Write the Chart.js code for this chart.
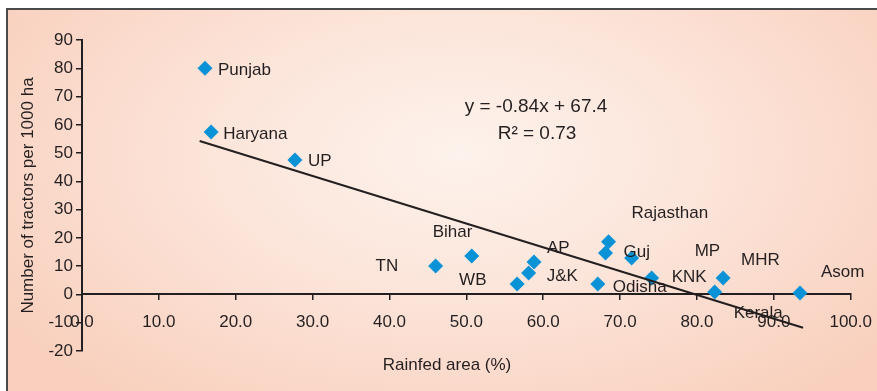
<!DOCTYPE html>
<html>
<head>
<meta charset="utf-8">
<script src="https://cdn.jsdelivr.net/npm/chart.js@4"></script>
<style>
    body { margin: 0; background: #ffffff; }
    #okvir {
        position: absolute; left: 6px; top: 8px; width: 871px; height: 383px;
        box-sizing: border-box;
        border-top: 2px solid #4a4a4a; border-left: 2px solid #4a4a4a;
        background: radial-gradient(ellipse 62% 80% at 52% 38%, #fdf2ec 0%, #fce5da 45%, #f9d0be 100%);
    }
    #grafik { position: absolute; left: 0; top: 0; }
</style>
</head>
<body>
<div id="okvir"></div>
<canvas id="grafik" width="877" height="391"></canvas>
<script>
// States and values
let states = ["Punjab", "Haryana", "UP", "TN", "Bihar", "WB", "J&K", "AP", "Odisha", "Rajasthan", "Guj", "MP", "KNK", "Kerala", "MHR", "Asom"];
let rainfedArea = [16.0, 16.8, 27.7, 46.0, 50.7, 56.6, 58.1, 58.8, 67.1, 68.5, 68.1, 71.5, 74.1, 82.3, 83.4, 93.4];
let tractors = [80.0, 57.5, 47.6, 10.1, 13.6, 3.7, 7.6, 11.5, 3.7, 18.6, 14.7, 12.9, 5.8, 0.9, 5.8, 0.5];

// Trend line end points
let trendX = [15.3, 93.8];
let trendY = [54.3, -11.8];

let equationLines = ["y = -0.84x + 67.4", "R\u00b2 = 0.73"];

// Label offsets from each point, in pixels
let labelOffsets = [[13, 2], [12, 2], [13, 1], [-60, 0], [-39, -24], [-58, -4], [18, 3], [13, -14],
    [15, 3], [23, -29], [18, -1], [63, -7], [20, -1], [19, 21], [18, -18], [21, -21]];

const tamno = '#231f20';
const font = 'Liberation Sans, Arial, sans-serif';

const points = rainfedArea.map((x, i) => ({ x: x, y: tractors[i] }));
const trend = trendX.map((x, i) => ({ x: x, y: trendY[i] }));

// Labels, equation and x title
const labelPlugin = {
    id: 'labele',
    afterDatasetsDraw(chart) {
        const c = chart.ctx;
        const meta = chart.getDatasetMeta(1);
        const area = chart.chartArea;
        c.save();
        c.fillStyle = tamno;
        c.font = '17px ' + font;
        c.textAlign = 'left';
        c.textBaseline = 'middle';
        meta.data.forEach((el, i) => {
            c.fillText(states[i], el.x + labelOffsets[i][0], el.y + labelOffsets[i][1]);
        });
        c.textAlign = 'center';
        c.font = '19px ' + font;
        c.fillText(equationLines[0], area.left + 454, area.top + 67);
        c.fillText(equationLines[1], area.left + 455, area.top + 94);
        c.font = '17px ' + font;
        c.fillText('Rainfed area (%)', area.left + 365, area.top + 325);
        c.restore();
    }
};

const ctx = document.getElementById('grafik').getContext('2d');
const grafik = new Chart(ctx, {
    type: 'scatter',
    data: {
        datasets: [
            {
                type: 'line',
                data: trend,
                borderColor: tamno,
                borderWidth: 2,
                pointRadius: 0,
                fill: false
            },
            {
                data: points,
                pointStyle: 'rectRot',
                pointRadius: 7.5,
                backgroundColor: '#0993d6',
                borderWidth: 0
            }
        ]
    },
    options: {
        responsive: false,
        animation: false,
        layout: { padding: { left: 0, top: 40, right: 26, bottom: 40 } },
        scales: {
            x: {
                type: 'linear',
                position: { y: 0 },
                min: 0,
                max: 100,
                afterFit: (s) => { s.height = 60; },
                ticks: {
                    stepSize: 10,
                    autoSkip: false,
                    maxRotation: 0,
                    padding: 5,
                    color: tamno,
                    font: { family: font, size: 17, lineHeight: 2.1 },
                    callback: (v) => v.toFixed(1)
                },
                grid: { drawOnChartArea: false, color: tamno, lineWidth: 1.5, tickLength: 5 },
                border: { color: tamno, width: 2 }
            },
            y: {
                min: -20,
                max: 90,
                afterFit: (s) => { s.width = 82; },
                ticks: {
                    stepSize: 10,
                    padding: 3,
                    color: tamno,
                    font: { family: font, size: 17 }
                },
                grid: { drawOnChartArea: false, color: tamno, lineWidth: 1.5, tickLength: 6 },
                border: { color: tamno, width: 2 },
                title: {
                    display: true,
                    text: 'Number of tractors per 1000 ha',
                    color: tamno,
                    font: { family: font, size: 17 },
                    padding: { top: 18, bottom: 0 }
                }
            }
        },
        plugins: {
            legend: { display: false },
            tooltip: { enabled: false }
        }
    },
    plugins: [labelPlugin]
});
</script>
</body>
</html>
